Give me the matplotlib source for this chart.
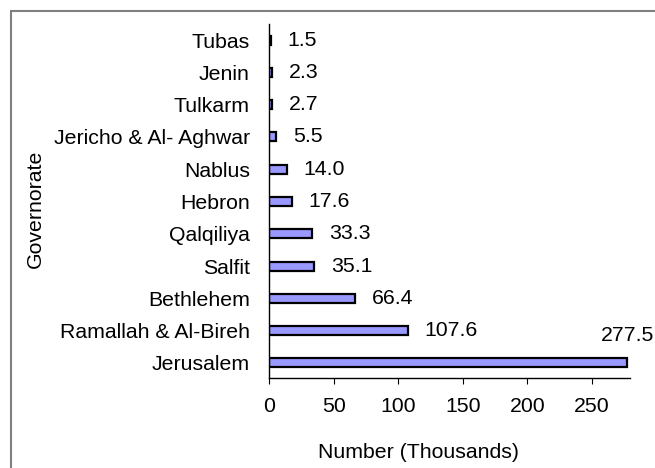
import matplotlib
matplotlib.use("Agg")
import matplotlib.pyplot as plt
from matplotlib.patches import Rectangle

categories = ["Jerusalem", "Ramallah & Al-Bireh", "Bethlehem", "Salfit", "Qalqiliya",
              "Hebron", "Nablus", "Jericho & Al- Aghwar", "Tulkarm", "Jenin", "Tubas"]
values = [277.5, 107.6, 66.4, 35.1, 33.3, 17.6, 14.0, 5.5, 2.7, 2.3, 1.5]
xticks = [0, 50, 100, 150, 200, 250]

plt.rcParams['font.family'] = ['Liberation Sans', 'DejaVu Sans']
FS = 15.3
W, H = 655, 468
fig = plt.figure(figsize=(W/100, H/100), dpi=100)
ax = fig.add_axes([269/W, 1-378/H, (630-269)/W, (378-24)/H])

ypos = list(range(len(categories)))
ax.barh(ypos, values, height=0.28, color='#9999FF', edgecolor='black', linewidth=1.6)
ax.set_ylim(-0.47, len(categories)-0.5)
ax.set_xlim(0, 279.5)
ax.set_yticks(ypos)
ax.set_yticklabels(categories, fontsize=FS)
ax.tick_params(axis='y', length=0, pad=13.7)
ax.set_xticks(xticks)
ax.set_xticklabels([str(t) for t in xticks], fontsize=FS)
ax.tick_params(axis='x', length=4.5, direction='out', pad=9.5)
for s in ['top', 'right']:
    ax.spines[s].set_visible(False)
for s in ['left', 'bottom']:
    ax.spines[s].set_linewidth(1.0)

for i, v in enumerate(values):
    if i == 0:
        ax.annotate(f"{v:.1f}", (v, i), xytext=(0, 20), textcoords='offset points',
                    ha='center', va='center', fontsize=FS, annotation_clip=False)
    else:
        ax.annotate(f"{v:.1f}", (v, i), xytext=(12, 0), textcoords='offset points',
                    ha='left', va='center', fontsize=FS, annotation_clip=False)

ax.set_ylabel("Governorate", fontsize=FS)
ax.yaxis.set_label_coords(35/W, 1-209/H, transform=fig.transFigure)
ax.set_xlabel("Number (Thousands)", fontsize=FS)
ax.xaxis.set_label_coords(418/W, 1-453/H, transform=fig.transFigure)
ax.xaxis.label.set_va('center')
ax.yaxis.label.set_va('center')

fig.patches.append(Rectangle((11/W, -0.1), 1.2, 1.1-11/H, transform=fig.transFigure,
                             fill=False, edgecolor='#808080', linewidth=1.5, clip_on=False))

fig.savefig("out.png", dpi=100)
